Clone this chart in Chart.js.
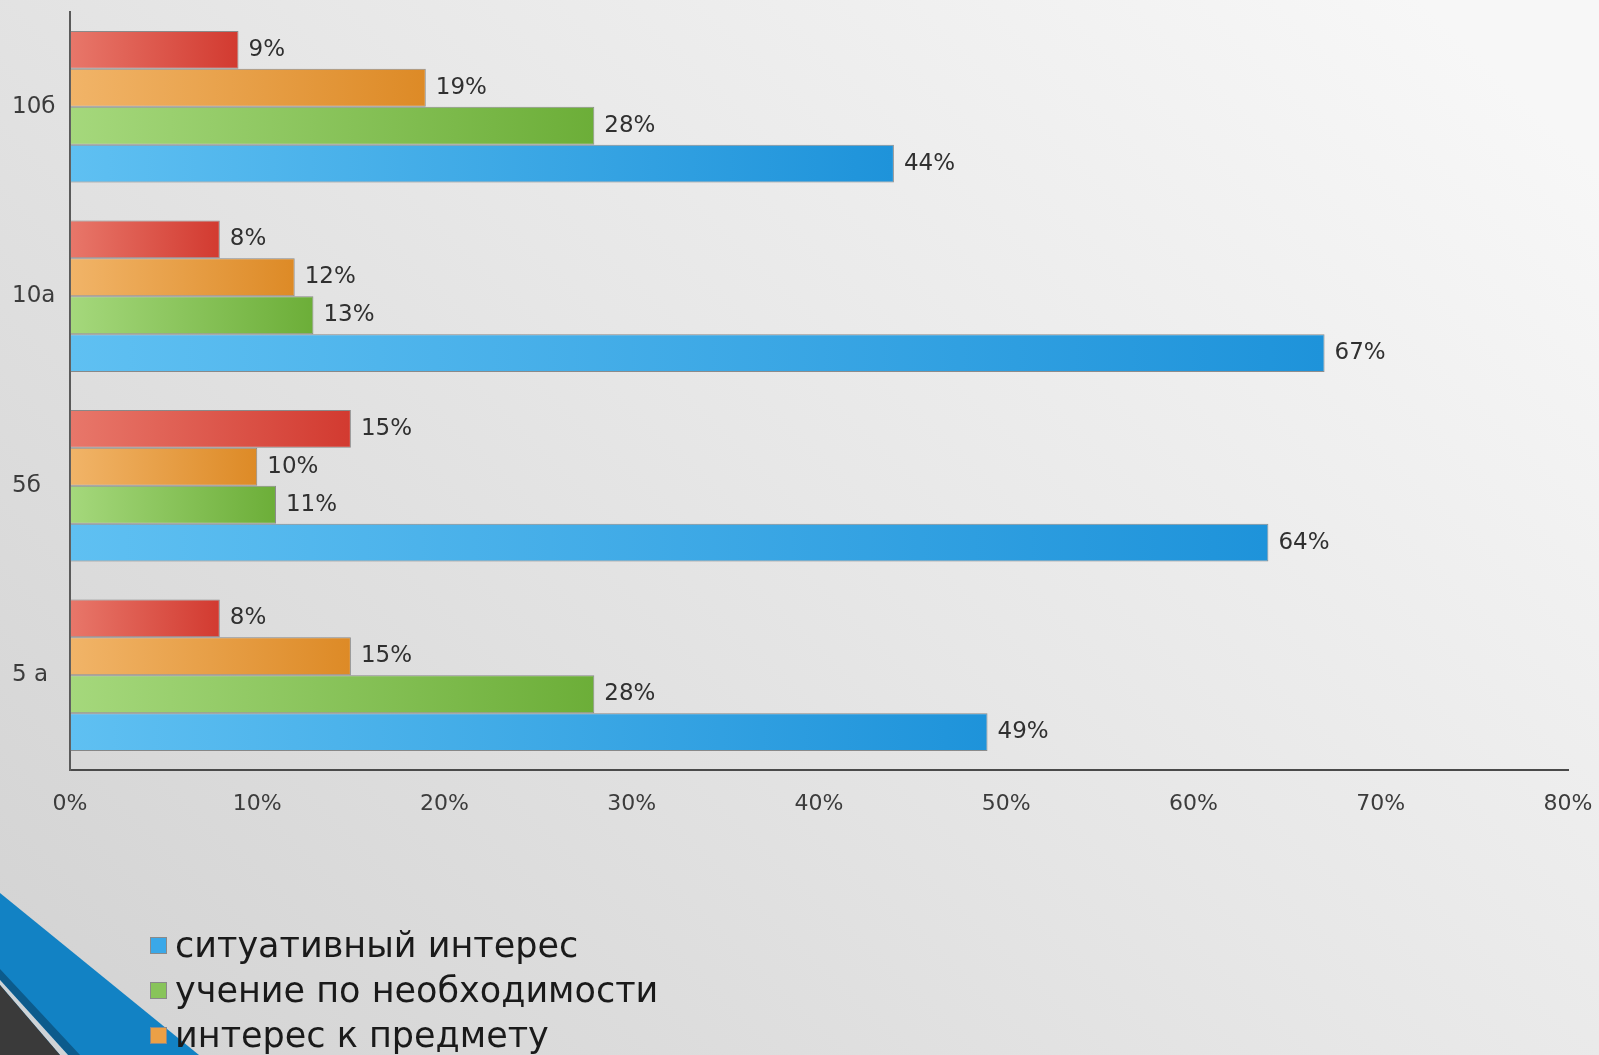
<!DOCTYPE html>
<html lang="ru">
<head>
<meta charset="utf-8">
<title>Мотивация учения</title>
<script src="https://cdn.jsdelivr.net/npm/chart.js@4.4.1/dist/chart.umd.min.js"></script>
<style>
    html, body {
        margin: 0;
        padding: 0;
        width: 1599px;
        height: 1055px;
        overflow: hidden;
        background: #e4e4e4;
    }
    #wrap {
        position: relative;
        width: 1599px;
        height: 1055px;
    }
    #chart {
        position: absolute;
        left: 0;
        top: 0;
    }
    #legend {
        position: absolute;
        left: 150px;
        top: 923px;
        font-family: 'DejaVu Sans', sans-serif;
        font-size: 35px;
        line-height: 45px;
        color: #1a1a1a;
    }
    #legend .item {
        display: flex;
        align-items: center;
        white-space: nowrap;
    }
    #legend .box {
        width: 15px;
        height: 15px;
        border: 1px solid #8a8a8a;
        margin-right: 8px;
    }
</style>
</head>
<body>
<div id="wrap">
    <canvas id="chart" width="1599" height="1055"></canvas>
    <div id="legend"></div>
</div>
<script>
// Classes, top to bottom as drawn
const categories = ['10б', '10а', '5б', '5 а'];

// Series values in percent, same order as categories
const cognitiveInterest = [9, 8, 15, 8];
const subjectInterest = [19, 12, 10, 15];
const studyByNecessity = [28, 13, 11, 28];
const situationalInterest = [44, 67, 64, 49];

const xTicks = [0, 10, 20, 30, 40, 50, 60, 70, 80];

// light -> dark gradient stops per series
const palette = {
    red:    ['#e8776a', '#d23a30'],
    orange: ['#f1b468', '#dd8a26'],
    green:  ['#a5d87c', '#6cae38'],
    blue:   ['#5fc0f2', '#1e93da']
};

function barGradient(stops) {
    return function (c) {
        if (c.type !== 'data' || !c.chart.chartArea) return stops[1];
        const xs = c.chart.scales.x;
        const x0 = xs.getPixelForValue(0);
        const x1 = xs.getPixelForValue(c.dataset.data[c.dataIndex]);
        const g = c.chart.ctx.createLinearGradient(x0, 0, x1, 0);
        g.addColorStop(0, stops[0]);
        g.addColorStop(1, stops[1]);
        return g;
    };
}

// red sits on top inside each group, blue at the bottom
const datasets = [
    { label: 'познавательный интерес', data: cognitiveInterest, swatch: '#e05a4b', backgroundColor: barGradient(palette.red) },
    { label: 'интерес к предмету', data: subjectInterest, swatch: '#eba046', backgroundColor: barGradient(palette.orange) },
    { label: 'учение по необходимости', data: studyByNecessity, swatch: '#88c45a', backgroundColor: barGradient(palette.green) },
    { label: 'ситуативный интерес', data: situationalInterest, swatch: '#3aa8e8', backgroundColor: barGradient(palette.blue) }
].map(d => Object.assign(d, {
    borderColor: 'rgba(100, 100, 100, 0.7)',
    borderWidth: 1,
    borderSkipped: false,
    categoryPercentage: 0.8,
    barPercentage: 1.0
}));

// slide background + corner decoration
const backdrop = {
    id: 'backdrop',
    beforeDraw(chart) {
        const ctx = chart.ctx;
        const w = chart.width, h = chart.height;
        ctx.save();
        const g = ctx.createLinearGradient(0, h, w * 0.75, -h * 0.2);
        g.addColorStop(0, '#d2d2d2');
        g.addColorStop(0.55, '#e7e7e7');
        g.addColorStop(1, '#f7f7f7');
        ctx.fillStyle = g;
        ctx.fillRect(0, 0, w, h);

        ctx.fillStyle = '#1282c4';
        ctx.beginPath();
        ctx.moveTo(0, 893);
        ctx.lineTo(199, h);
        ctx.lineTo(0, h);
        ctx.closePath();
        ctx.fill();

        ctx.fillStyle = '#0c5b8c';
        ctx.beginPath();
        ctx.moveTo(0, 969);
        ctx.lineTo(80, h);
        ctx.lineTo(68, h);
        ctx.lineTo(0, 980);
        ctx.closePath();
        ctx.fill();

        ctx.fillStyle = '#cfd3d6';
        ctx.beginPath();
        ctx.moveTo(0, 980);
        ctx.lineTo(68, h);
        ctx.lineTo(60, h);
        ctx.lineTo(0, 985);
        ctx.closePath();
        ctx.fill();

        ctx.fillStyle = '#3a3a3a';
        ctx.beginPath();
        ctx.moveTo(0, 985);
        ctx.lineTo(60, h);
        ctx.lineTo(0, h);
        ctx.closePath();
        ctx.fill();
        ctx.restore();
    }
};

// value labels at the end of each bar
const valueLabels = {
    id: 'valueLabels',
    afterDatasetsDraw(chart) {
        const ctx = chart.ctx;
        ctx.save();
        ctx.font = "23px 'DejaVu Sans', sans-serif";
        ctx.fillStyle = '#303030';
        ctx.textAlign = 'left';
        ctx.textBaseline = 'middle';
        chart.data.datasets.forEach((ds, i) => {
            chart.getDatasetMeta(i).data.forEach((bar, j) => {
                ctx.fillText(ds.data[j] + '%', bar.x + 10, bar.y);
            });
        });
        ctx.restore();
    }
};

new Chart(document.getElementById('chart'), {
    type: 'bar',
    data: {
        labels: categories,
        datasets: datasets
    },
    options: {
        indexAxis: 'y',
        responsive: false,
        animation: false,
        layout: {
            padding: { top: 12, right: 31, left: 12, bottom: 0 }
        },
        plugins: {
            legend: { display: false },
            tooltip: { enabled: false }
        },
        scales: {
            x: {
                min: 0,
                max: 80,
                afterBuildTicks: scale => {
                    scale.ticks = xTicks.map(v => ({ value: v }));
                },
                grid: { display: false, drawTicks: false },
                border: { display: true, color: '#4a4a4a', width: 2 },
                ticks: {
                    font: { family: "'DejaVu Sans', sans-serif", size: 22 },
                    color: '#3c3c3c',
                    padding: 21,
                    callback: v => v + '%'
                },
                afterFit: scale => {
                    scale.height = 285;
                    scale.paddingLeft = 0;
                    scale.paddingRight = 0;
                }
            },
            y: {
                grid: { display: false, drawTicks: false },
                border: { display: true, color: '#5a5a5a', width: 2 },
                ticks: {
                    font: { family: "'DejaVu Sans', sans-serif", size: 23 },
                    color: '#3c3c3c',
                    padding: 12,
                    crossAlign: 'far'
                },
                afterFit: scale => {
                    scale.width = 58;
                    scale.paddingTop = 0;
                    scale.paddingBottom = 0;
                }
            }
        }
    },
    plugins: [backdrop, valueLabels]
});

// legend in the order of the original slide: blue, green, orange, red
const legendEl = document.getElementById('legend');
datasets.slice().reverse().forEach(ds => {
    const item = document.createElement('div');
    item.className = 'item';
    const box = document.createElement('span');
    box.className = 'box';
    box.style.background = ds.swatch;
    const text = document.createElement('span');
    text.textContent = ds.label;
    item.appendChild(box);
    item.appendChild(text);
    legendEl.appendChild(item);
});
</script>
</body>
</html>
